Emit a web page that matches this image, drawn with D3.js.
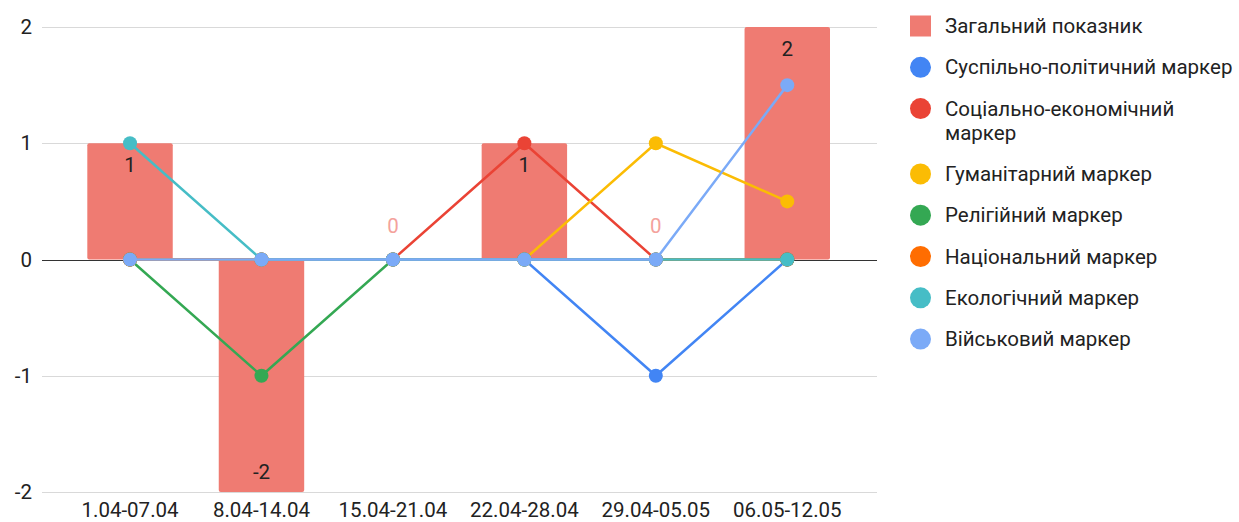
<!DOCTYPE html>
<html>
<head>
<meta charset="utf-8">
<script src="https://cdn.jsdelivr.net/npm/d3@7"></script>
<style>
  body { margin: 0; background: #fff; }
  svg { display: block; font-family: Roboto, Arial, sans-serif; }
</style>
</head>
<body>
<svg id="chart"></svg>
<script>
// категорії (тижні)
const weeks = ["1.04-07.04", "8.04-14.04", "15.04-21.04", "22.04-28.04", "29.04-05.05", "06.05-12.05"];

// загальний показник (стовпчики)
const totalName = "Загальний показник";
const totalValues = [1, -2, 0, 1, 0, 2];

// маркери (лінії)
const markerNames = [
    "Суспільно-політичний маркер",
    "Соціально-економічний маркер",
    "Гуманітарний маркер",
    "Релігійний маркер",
    "Національний маркер",
    "Екологічний маркер",
    "Військовий маркер"
];
const politicalValues = [0, 0, 0, 0, -1, 0];
const economicValues = [0, 0, 0, 1, 0, 0];
const humanitarianValues = [0, 0, 0, 0, 1, 0.5];
const religiousValues = [0, -1, 0, 0, 0, 0];
const nationalValues = [0, 0, 0, 0, 0, 0];
const ecologicalValues = [1, 0, 0, 0, 0, 0];
const militaryValues = [0, 0, 0, 0, 0, 1.5];

const yTicks = [-2, -1, 0, 1, 2];

const barColor = "#ef7b72";
const lineColors = ["#4285f4", "#ea4335", "#fbbc04", "#34a853", "#ff6d01", "#46bdc6", "#7baaf7"];

const series = [politicalValues, economicValues, humanitarianValues, religiousValues,
    nationalValues, ecologicalValues, militaryValues].map((vals, i) => ({
    name: markerNames[i],
    color: lineColors[i],
    values: vals
}));

const width = 1239, height = 522;
const fontSize = "20.5px";
const svg = d3.select("#chart").attr("width", width).attr("height", height);

const plotLeft = 42, plotRight = 877;

const x = d3.scaleBand()
    .domain(weeks)
    .range([64.3, 853])
    .paddingInner(0.35)
    .paddingOuter(0.175);

const y = d3.scaleLinear()
    .domain([-2, 2])
    .range([492, 27]);

// сітка
svg.append("g")
    .selectAll("line")
    .data(yTicks.filter(t => t !== 0))
    .join("line")
    .attr("x1", plotLeft)
    .attr("x2", plotRight)
    .attr("y1", d => Math.round(y(d)) + 0.5)
    .attr("y2", d => Math.round(y(d)) + 0.5)
    .attr("stroke", "#d9d9d9")
    .attr("stroke-width", 1);

// підписи осі Y
svg.append("g")
    .selectAll("text")
    .data(yTicks)
    .join("text")
    .attr("x", 32)
    .attr("y", d => y(d))
    .attr("dy", "0.35em")
    .attr("text-anchor", "end")
    .attr("font-size", fontSize)
    .attr("fill", "#222")
    .text(d => d);

// стовпчики
const barX = i => x(weeks[i]);
svg.append("g")
    .selectAll("rect")
    .data(totalValues)
    .join("rect")
    .attr("x", (d, i) => barX(i))
    .attr("width", x.bandwidth())
    .attr("y", d => y(Math.max(0, d)))
    .attr("height", d => Math.abs(y(d) - y(0)))
    .attr("rx", 2)
    .attr("fill", barColor);

// нульова лінія
svg.append("line")
    .attr("x1", plotLeft)
    .attr("x2", plotRight)
    .attr("y1", Math.round(y(0)) + 0.5)
    .attr("y2", Math.round(y(0)) + 0.5)
    .attr("stroke", "#333")
    .attr("stroke-width", 1);

// лінії маркерів
const cx = i => x(weeks[i]) + x.bandwidth() / 2;
const line = d3.line()
    .x((d, i) => cx(i))
    .y(d => y(d));

series.forEach(s => {
    const g = svg.append("g");
    g.append("path")
        .datum(s.values)
        .attr("d", line)
        .attr("fill", "none")
        .attr("stroke", s.color)
        .attr("stroke-width", 2.5);
    g.selectAll("circle")
        .data(s.values)
        .join("circle")
        .attr("cx", (d, i) => cx(i))
        .attr("cy", d => y(d))
        .attr("r", 7)
        .attr("fill", s.color);
});

// підписи значень стовпчиків
svg.append("g")
    .selectAll("text")
    .data(totalValues)
    .join("text")
    .attr("x", (d, i) => cx(i))
    .attr("y", d => d > 0 ? y(d) + 22 : d < 0 ? y(d) - 20 : y(0) - 34)
    .attr("dy", "0.35em")
    .attr("text-anchor", "middle")
    .attr("font-size", fontSize)
    .attr("fill", d => d === 0 ? "#f4a29c" : "#222")
    .text(d => d);

// підписи осі X
svg.append("g")
    .selectAll("text")
    .data(weeks)
    .join("text")
    .attr("x", (d, i) => cx(i))
    .attr("y", 510)
    .attr("dy", "0.35em")
    .attr("text-anchor", "middle")
    .attr("font-size", fontSize)
    .attr("fill", "#222")
    .text(d => d);

// легенда
const legendItems = [{ name: totalName, color: barColor, bar: true }]
    .concat(series.map(s => ({ name: s.name, color: s.color, bar: false })));
const legendLines = {
    "Соціально-економічний маркер": ["Соціально-економічний", "маркер"]
};
const legend = svg.append("g");
let ly = 26;
legendItems.forEach(item => {
    const g = legend.append("g").attr("transform", `translate(0,${ly})`);
    if (item.bar) {
        g.append("rect")
            .attr("x", 910).attr("y", -10.5)
            .attr("width", 21).attr("height", 21)
            .attr("fill", item.color);
    } else {
        g.append("circle")
            .attr("cx", 920.5).attr("cy", 0)
            .attr("r", 10.5)
            .attr("fill", item.color);
    }
    const lines = legendLines[item.name] || [item.name];
    const t = g.append("text")
        .attr("x", 945)
        .attr("font-size", fontSize)
        .attr("fill", "#222");
    lines.forEach((l, k) => {
        t.append("tspan")
            .attr("x", 945)
            .attr("y", k * 24)
            .attr("dy", "0.35em")
            .text(l);
    });
    ly += 41.3 + (lines.length - 1) * 24;
});
</script>
</body>
</html>
